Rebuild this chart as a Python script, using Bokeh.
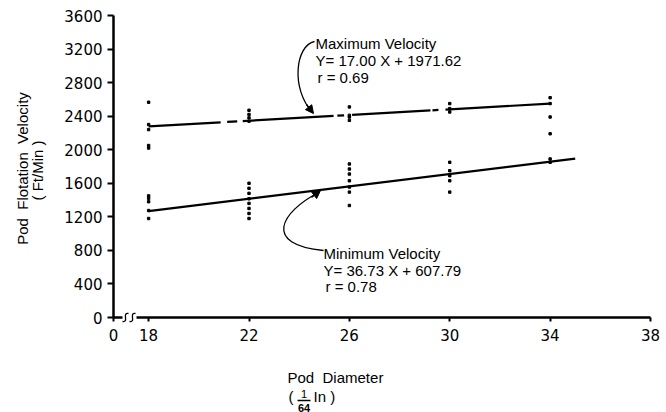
from bokeh.plotting import figure
from bokeh.models import FixedTicker, Label, Arrow, NormalHead
from bokeh.embed import file_html
from bokeh.resources import INLINE

# ---- data ----
x_ticks = [16.6, 18, 22, 26, 30, 34, 38]
x_tick_labels = {16.6: "0"}
y_ticks = [0, 400, 800, 1200, 1600, 2000, 2400, 2800, 3200, 3600]

max_x = [18, 18, 18, 18, 18, 22, 22, 22, 22, 26, 26, 26, 26, 30, 30, 30, 34, 34, 34, 34]
max_y = [2566, 2300, 2240, 2050, 2020, 2470, 2420, 2380, 2340, 2510, 2410, 2390, 2350,
         2550, 2490, 2450, 2620, 2550, 2390, 2190]
min_x = [18, 18, 18, 18, 18, 22, 22, 22, 22, 22, 22, 22, 22, 26, 26, 26, 26, 26, 26, 26,
         30, 30, 30, 30, 30, 34, 34]
min_y = [1450, 1420, 1380, 1275, 1180, 1600, 1540, 1480, 1415, 1360, 1300, 1240, 1180,
         1830, 1770, 1710, 1630, 1555, 1495, 1335, 1850, 1750, 1690, 1630, 1495, 1890, 1850]

max_slope, max_icpt, max_r = 17.00, 1971.62, 0.69
min_slope, min_icpt, min_r = 36.73, 607.79, 0.78
max_span = (18, 34)
min_span = (18, 35)
# pieces of the (partly broken) maximum-velocity fit line
max_pieces = [(18, 20.87), (21.13, 21.53), (21.75, 25.37), (25.52, 25.79),
              (26.11, 29.23), (29.31, 29.55), (29.83, 34)]

FONT = "Liberation Sans"
TICK_FONT = "DejaVu Sans"
W, H = 666, 412
NB = "\u00a0"

# axis geometry in pixels: x-axis origin at px 113, "38" at px 650; y 0 at py 317, 3600 at py 15
X0, X1 = 16.6, 38
SX = (650 - 113) / (X1 - X0)
SY = 302 / 3600


def X(px):
    return X0 + (px - 113) / SX


def Y(py):
    return (317 - py) / SY


p = figure(width=W, height=H, x_range=(X(0), X(W)), y_range=(Y(H), Y(0)),
           output_backend="svg", toolbar_location=None, title=None,
           min_border=0)
p.outline_line_color = None
p.xgrid.visible = False
p.ygrid.visible = False
p.background_fill_color = "white"
p.border_fill_color = "white"

for ax in (p.xaxis[0], p.yaxis[0]):
    ax.axis_line_width = 2.5
    ax.axis_line_color = "black"
    ax.major_tick_line_width = 2
    ax.major_tick_line_color = "black"
    ax.minor_tick_line_color = None
    ax.major_tick_in = 0
    ax.major_label_text_font = TICK_FONT
    ax.major_label_text_font_size = "15px"
    ax.major_label_text_color = "black"

p.xaxis.ticker = FixedTicker(ticks=x_ticks)
p.xaxis.major_label_overrides = x_tick_labels
p.xaxis.major_tick_out = 4
p.xaxis.major_label_standoff = 7
p.xaxis.fixed_location = 0
p.xaxis.bounds = (X0, X1)
p.yaxis.ticker = FixedTicker(ticks=y_ticks)
p.yaxis.major_tick_out = 6
p.yaxis.major_label_standoff = 5
p.yaxis.fixed_location = X0
p.yaxis.bounds = (0, 3600)

# scatter points
p.scatter(max_x, max_y, size=2.4, marker="square", color="black")
p.scatter(min_x, min_y, size=2.4, marker="square", color="black")

# fitted lines
xs = [[a, b] for a, b in max_pieces]
ys = [[max_slope * a + max_icpt, max_slope * b + max_icpt] for a, b in max_pieces]
p.multi_line(xs, ys, line_width=2.2, color="black")
p.line(list(min_span), [min_slope * v + min_icpt for v in min_span], line_width=2.2, color="black")


def txt(s, px, py, size="15px", **kw):
    p.add_layout(Label(x=X(px), y=Y(py), text=s, text_font=FONT, text_font_size=size,
                       text_baseline=kw.pop("baseline", "top"),
                       text_align=kw.pop("align", "left"), text_color="black", **kw))


txt("Maximum Velocity", 315, 34.5)
txt("Y= %.2f X + %.2f" % (max_slope, max_icpt), 315, 51)
txt("r = %.2f" % max_r, 317, 68.5)
txt("Minimum Velocity", 323, 244.5)
txt("Y= %.2f X + %.2f" % (min_slope, min_icpt), 323, 261)
txt("r = %.2f" % min_r, 325, 277.5)

# leader curves with arrow heads
p.bezier(x0=[X(314)], y0=[Y(41)], x1=[X(312)], y1=[Y(112)],
         cx0=[X(295)], cy0=[Y(45)], cx1=[X(290)], cy1=[Y(88)], line_width=1.3, color="black")
p.add_layout(Arrow(end=NormalHead(size=8, fill_color="black", line_color="black"),
                   x_start=X(306), y_start=Y(104), x_end=X(313), y_end=Y(113),
                   line_width=1.3, line_color="black"))
p.bezier(x0=[X(323)], y0=[Y(250)], x1=[X(318)], y1=[Y(192)],
         cx0=[X(262)], cy0=[Y(244)], cx1=[X(280)], cy1=[Y(212)], line_width=1.3, color="black")
p.add_layout(Arrow(end=NormalHead(size=8, fill_color="black", line_color="black"),
                   x_start=X(311), y_start=Y(197), x_end=X(320), y_end=Y(190),
                   line_width=1.3, line_color="black"))

# axis break marks (white gap in the axis, then two small s-curves)
p.quad(left=[X(122)], right=[X(136)], bottom=[Y(320)], top=[Y(314)],
       fill_color="white", line_color=None, level="overlay")
for cx in (125, 132):
    p.bezier(x0=[X(cx - 3)], y0=[Y(321)], x1=[X(cx + 3)], y1=[Y(313)],
             cx0=[X(cx + 4)], cy0=[Y(322)], cx1=[X(cx - 4)], cy1=[Y(312)],
             line_width=1.3, color="black", level="overlay")

# axis titles
txt(NB.join(["Pod", "", "Flotation", "", "Velocity"]), 22, 168, align="center",
    baseline="middle", angle=1.5708)
txt("(" + NB + "Ft/Min" + NB + ")", 37, 170, align="center", baseline="middle", angle=1.5708)
txt("Pod" + NB + NB + "Diameter", 287, 377, baseline="middle")
txt("(", 288, 396, baseline="middle")
txt("1", 303.5, 393, size="11px", align="center", baseline="middle")
txt("64", 303.5, 407, size="11px", align="center", baseline="middle", text_font_style="bold")
txt("In )", 313, 396, baseline="middle")
p.add_layout(Arrow(end=None, x_start=X(297), y_start=Y(400), x_end=X(310), y_end=Y(400),
                   line_width=1.5, line_color="black"))

open("out.html", "w").write(file_html(p, INLINE))
